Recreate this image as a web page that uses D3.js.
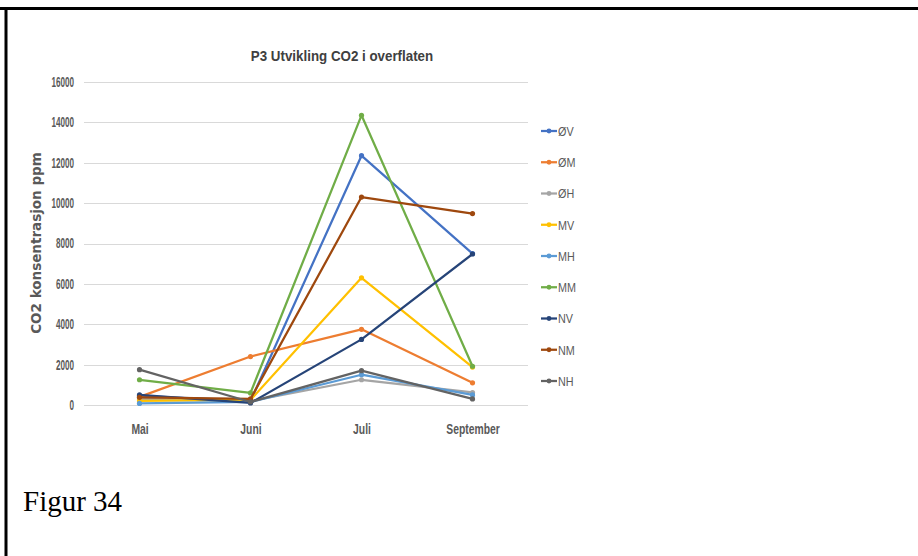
<!DOCTYPE html>
<html>
<head>
<meta charset="utf-8">
<script src="https://cdn.jsdelivr.net/npm/d3@7/dist/d3.min.js"></script>
<style>
  html, body { margin: 0; padding: 0; background: #fff; }
  svg { display: block; }
</style>
</head>
<body>
<svg id="chart" width="918" height="556"></svg>
<script>
const categories = ["Mai", "Juni", "Juli", "September"];
const seriesNames = ["ØV", "ØM", "ØH", "MV", "MH", "MM", "NV", "NM", "NH"];
const seriesColors = ["#4472C4", "#ED7D31", "#A5A5A5", "#FFC000", "#5B9BD5", "#70AD47", "#264478", "#9E480E", "#636363"];
const valuesOV = [450, 200, 12350, 7500];
const valuesOM = [400, 2400, 3750, 1100];
const valuesOH = [300, 200, 1250, 620];
const valuesMV = [200, 250, 6300, 1880];
const valuesMH = [80, 150, 1500, 500];
const valuesMM = [1250, 600, 14350, 1920];
const valuesNV = [500, 100, 3250, 7480];
const valuesNM = [380, 300, 10300, 9480];
const valuesNH = [1750, 150, 1700, 300];
const yTicks = [0, 2000, 4000, 6000, 8000, 10000, 12000, 14000, 16000];
const titleText = "P3 Utvikling CO2 i overflaten";
const yLabel = "CO2 konsentrasjon ppm";
const captionText = "Figur 34";

const allValues = [valuesOV, valuesOM, valuesOH, valuesMV, valuesMH, valuesMM, valuesNV, valuesNM, valuesNH];
const series = seriesNames.map((n, i) => ({ name: n, color: seriesColors[i], values: allValues[i] }));

const svg = d3.select("#chart");
const font = "'Liberation Sans', Arial, sans-serif";

// frame
svg.append("line").attr("x1", 0).attr("x2", 918).attr("y1", 8.5).attr("y2", 8.5)
  .attr("stroke", "#000").attr("stroke-width", 3);
svg.append("line").attr("x1", 6).attr("x2", 6).attr("y1", 8).attr("y2", 556)
  .attr("stroke", "#000").attr("stroke-width", 3);

const plot = { left: 84, right: 528, top: 82, bottom: 405 };
const x = d3.scalePoint().domain(categories).range([plot.left, plot.right]).padding(0.5);
const y = d3.scaleLinear().domain([0, 16000]).range([plot.bottom, plot.top]);

// gridlines
svg.append("g").selectAll("line").data(yTicks).join("line")
  .attr("x1", plot.left).attr("x2", plot.right)
  .attr("y1", d => Math.round(y(d)) + 0.5).attr("y2", d => Math.round(y(d)) + 0.5)
  .attr("stroke", "#d9d9d9").attr("stroke-width", 1.2);

// y axis
const yAxis = d3.axisLeft(y).tickValues(yTicks).tickSize(0).tickPadding(10).tickFormat(d3.format("d"));
const gy = svg.append("g").attr("transform", `translate(${plot.left},0)`).call(yAxis);
gy.select(".domain").remove();
gy.selectAll("text").attr("x", 0).attr("transform", "translate(-10,0) scale(0.58,1)")
  .attr("font-family", font).attr("font-size", 14).attr("font-weight", "bold")
  .attr("fill", "#595959");

// x axis
const xAxis = d3.axisBottom(x).tickSize(0).tickPadding(19);
const gx = svg.append("g").attr("transform", `translate(0,${plot.bottom})`).call(xAxis);
gx.select(".domain").remove();
gx.selectAll("text").attr("transform", "scale(0.74,1)")
  .attr("font-family", font).attr("font-size", 14).attr("font-weight", "bold")
  .attr("fill", "#595959");

// lines
const line = d3.line().x((d, i) => x(categories[i])).y(d => y(d));
const gs = svg.append("g").selectAll("g").data(series).join("g");
gs.append("path").attr("d", d => line(d.values)).attr("fill", "none")
  .attr("stroke", d => d.color).attr("stroke-width", 2.25).attr("stroke-linejoin", "round");
gs.selectAll("circle").data(d => d.values.map((v, i) => ({ v, i, c: d.color }))).join("circle")
  .attr("cx", d => x(categories[d.i])).attr("cy", d => y(d.v)).attr("r", 2.6)
  .attr("fill", d => d.c);

// title
svg.append("text").attr("transform", "translate(342,61) scale(0.89,1)").attr("text-anchor", "middle")
  .attr("font-family", font).attr("font-size", 15).attr("font-weight", "bold")
  .attr("fill", "#404040").text(titleText);

// y label
svg.append("text").attr("transform", "translate(41,243) rotate(-90)").attr("text-anchor", "middle")
  .attr("font-family", "'DejaVu Sans', sans-serif").attr("font-size", 13.5).attr("font-weight", "bold")
  .attr("fill", "#595959").text(yLabel);

// legend
const lg = svg.append("g").selectAll("g").data(series).join("g")
  .attr("transform", (d, i) => `translate(541,${131 + i * 31.25})`);
lg.append("line").attr("x1", 0).attr("x2", 16).attr("stroke", d => d.color).attr("stroke-width", 2.25);
lg.append("circle").attr("cx", 8).attr("r", 2.4).attr("fill", d => d.color);
lg.append("text").attr("transform", "translate(17,0) scale(0.8,1)").attr("dy", "0.36em")
  .attr("font-family", font).attr("font-size", 13.5)
  .attr("fill", "#595959").text(d => d.name);

// caption
svg.append("text").attr("x", 23).attr("y", 511).attr("font-family", "'Liberation Serif', 'Times New Roman', serif")
  .attr("font-size", 29).attr("fill", "#000").text(captionText);
</script>
</body>
</html>
